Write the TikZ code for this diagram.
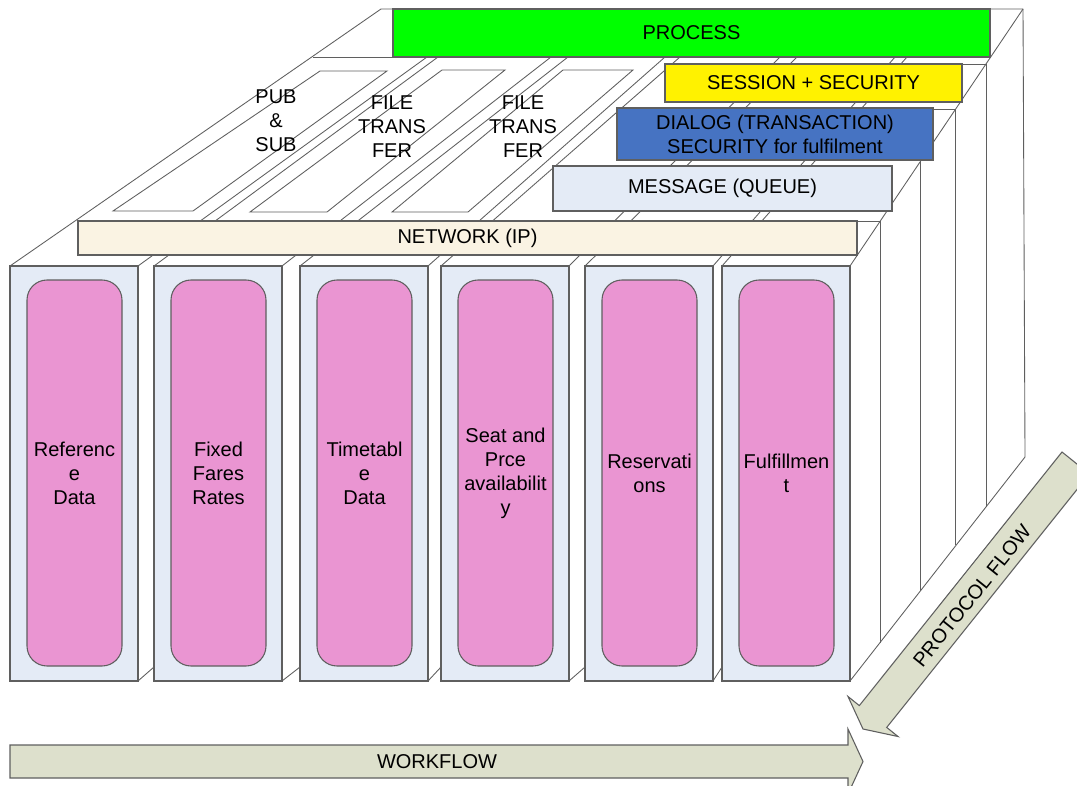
\documentclass[tikz,border=0pt]{standalone}
\usepackage{fontspec}
\setmainfont{Liberation Sans}
\definecolor{colblue}{RGB}{228,235,246}
\definecolor{pinkc}{RGB}{234,149,210}
\definecolor{netc}{RGB}{250,243,227}
\definecolor{dialc}{RGB}{70,115,194}
\definecolor{arrowc}{RGB}{221,224,204}
\definecolor{linec}{RGB}{95,95,95}
\begin{document}
\begin{tikzpicture}[x=0.75pt,y=-0.75pt,
  ln/.style={draw=linec,line width=0.65pt},
  bx/.style={draw=linec,line width=0.8pt},
  txt/.style={font=\fontsize{15}{18}\selectfont,align=center,inner sep=0pt,text=black},
  colbox/.style={draw=linec,line width=0.8pt,fill=colblue},
  pinkbox/.style={draw=linec,line width=0.8pt,fill=pinkc,rounded corners=15pt},
  arrowbox/.style={draw=linec,line width=0.8pt,fill=arrowc}]
\useasboundingbox (0,0) rectangle (1077,785);
\clip (0,0) rectangle (1077,785);

% outer edges of the block
\draw[ln] (10,266) -- (381,9) -- (1023,9);
\draw[ln] (850,266) -- (1023,9);
\draw[ln] (313,57) -- (393,57);
% right faces
\draw[ln] (880,221) -- (880,643);
\draw[ln] (920,161) -- (920,591);
\draw[ln] (955,109) -- (955,545);
\draw[ln] (986,64) -- (986,507);
\draw[ln] (1023,9) -- (1025,457);
\draw[ln] (850,681) -- (1025,457);
\draw[ln] (857,221) -- (880,221);
\draw[ln] (933,109) -- (955,109);
\draw[ln] (962,64) -- (986,64);

% gaps between columns, on the top surface
\foreach \a/\b in {138/427,154/438,282/551,300/568,428/665,441/680,569/780,585/797,713/895,722/907}
  \draw[ln] (\a,266) -- (\b,57);

% slots on the top surface
\draw[ln,fill=white] (113,211) -- (193,211) -- (387,71) -- (320,71) -- cycle;
\draw[ln,fill=white] (250,212) -- (327,212) -- (505,70) -- (442,70) -- cycle;
\draw[ln,fill=white] (392,212) -- (468,212) -- (633,70) -- (563,70) -- cycle;
\node[txt] (pubsub) at (276,121) {PUB\\\&\\SUB};
\node[txt] (ft1) at (392,127) {FILE\\TRANS\\FER};
\node[txt] (ft2) at (523,127) {FILE\\TRANS\\FER};

% layers
\draw[bx,fill=netc] (78,221) rectangle (857,255);
\node[txt] (network) at (467.5,238) {NETWORK (IP)};
\draw[bx,fill=colblue] (553,166) rectangle (892,211);
\node[txt] (message) at (722.5,188.5) {MESSAGE (QUEUE)};
\draw[bx,fill=dialc] (617,108) rectangle (933,160);
\node[txt] (dialog) at (775,134) {DIALOG (TRANSACTION)\\SECURITY for fulfilment};
\draw[bx,fill=yellow] (665,64) rectangle (962,102);
\node[txt] (session) at (813.5,83) {SESSION + SECURITY};
\draw[bx,fill=green] (393,9) rectangle (990,57);
\node[txt] (process) at (691.5,33) {PROCESS};

% columns
\foreach \x/\t [count=\i] in {10/{Referenc\\e\\Data},154/{Fixed\\Fares\\Rates},300/{Timetabl\\e\\Data},441/{Seat and\\Prce\\availabilit\\y},585/{Reservati\\ons},722/{Fulfillmen\\t}}{
  \draw[colbox] (\x,266) rectangle ++(128,415);
  \draw[pinkbox] (\x+17,280) rectangle ++(95,386);
  \node[txt] (col\i) at (\x+64.5,473) {\t};
}
\foreach \a/\b in {138/154,282/300,428/441,569/585,713/722}
  \draw[ln] (\a,681) -- (\b,667);

% workflow arrow
\draw[arrowbox] (10,745) -- (848,745) -- (848,729) -- (863,761.5) -- (848,794) -- (848,778) -- (10,778) -- cycle;
\node[txt] (workflow) at (437,762) {WORKFLOW};

% protocol flow arrow
\draw[arrowbox] (863,729) -- (848,696.5) -- (859.3,705.6) -- (1062,452) -- (1089.4,474) -- (886.7,727.4) -- (898,736.5) -- cycle;
\node[txt,rotate=51.3] (protocol) at (972,596) {PROTOCOL FLOW};
\end{tikzpicture}
\end{document}
